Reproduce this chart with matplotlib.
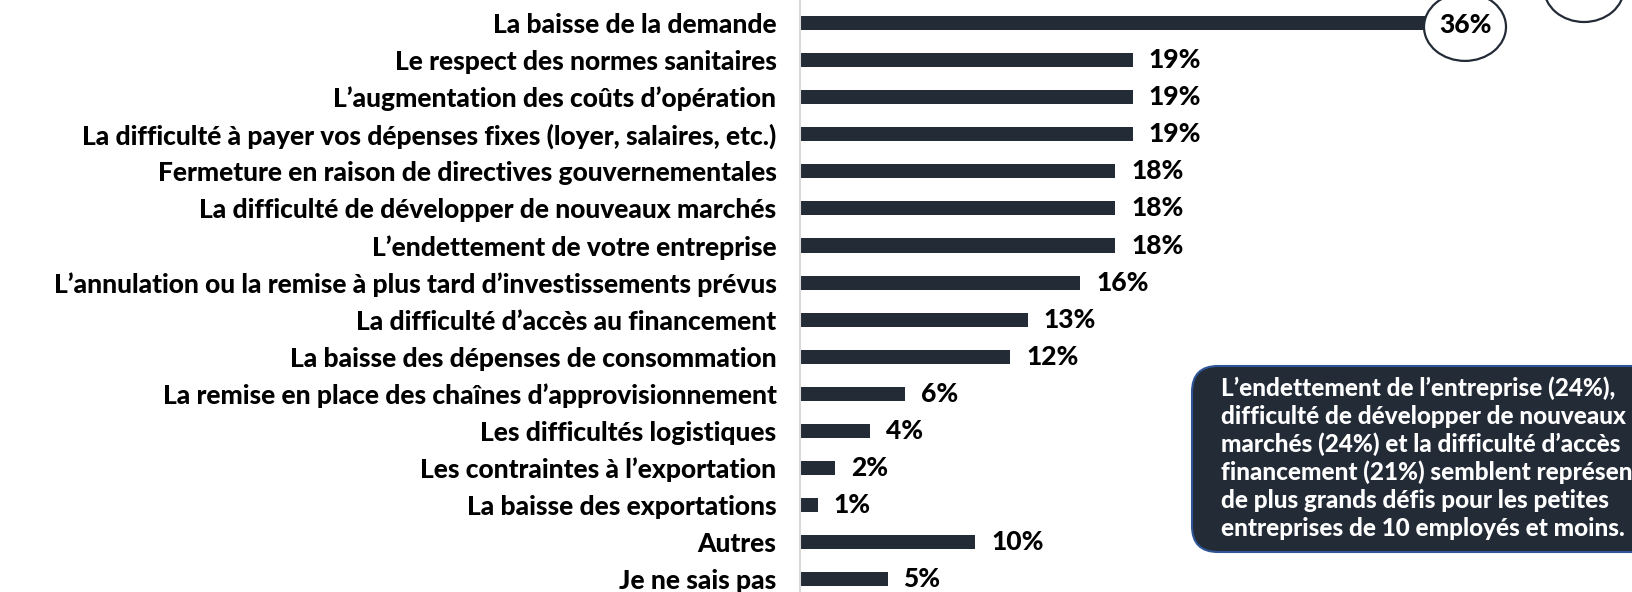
import matplotlib.pyplot as plt
from matplotlib.patches import Ellipse, FancyBboxPatch

labels = [
    "La baisse de la demande",
    "Le respect des normes sanitaires",
    "L’augmentation des coûts d’opération",
    "La difficulté à payer vos dépenses fixes (loyer, salaires, etc.)",
    "Fermeture en raison de directives gouvernementales",
    "La difficulté de développer de nouveaux marchés",
    "L’endettement de votre entreprise",
    "L’annulation ou la remise à plus tard d’investissements prévus",
    "La difficulté d’accès au financement",
    "La baisse des dépenses de consommation",
    "La remise en place des chaînes d’approvisionnement",
    "Les difficultés logistiques",
    "Les contraintes à l’exportation",
    "La baisse des exportations",
    "Autres",
    "Je ne sais pas",
]
values = [36, 19, 19, 19, 18, 18, 18, 16, 13, 12, 6, 4, 2, 1, 10, 5]

# the note runs past the right edge of the slide crop, as in the source
note_lines = [
    "L’endettement de l’entreprise (24%),",
    "difficulté de développer de nouveaux",
    "marchés (24%) et la difficulté d’accès",
    "financement (21%) semblent représenter",
    "de plus grands défis pour les petites",
    "entreprises de 10 employés et moins.",
]

navy = "#232b37"
wt = 900
fs = 19
plt.rcParams['font.family'] = ['Lato', 'DejaVu Sans']

W, H = 1632, 592
fig = plt.figure(figsize=(W / 100, H / 100), dpi=100)

# bar axes: x=0 at pixel 800, 17.5 px per percent; rows 37.1 px apart
px_per = 17.5
row = 37.1
y0 = 22.9
ax = fig.add_axes([800 / W, 0, (W - 800) / W, 1])
ax.set_xlim(0, (W - 800) / px_per)
ax.set_ylim((H - y0) / row, -y0 / row)

ys = list(range(len(labels)))
ax.barh(ys, values, height=0.38, color=navy)

for i, v in enumerate(values):
    if i == 0:
        continue
    ax.text(v + 16 / px_per, i, f"{v}%", va='center', ha='left',
            fontsize=19, fontweight=wt, color='black')

# circled top value
cx = (1465 - 800) / px_per
ax.add_patch(Ellipse((cx, 4 / row), 82 / px_per, 68 / row, facecolor='white',
                     edgecolor=navy, lw=1.6, zorder=3, clip_on=False))
ax.text(cx, 2 / row, f"{values[0]}%", ha='center', va='center', fontsize=19,
        fontweight=wt, color='black', zorder=4)

# partial circle at the top right (cut by the edge)
ax.add_patch(Ellipse(((1584 - 800) / px_per, (-12 - y0) / row), 80 / px_per,
                     68 / row, facecolor='white', edgecolor=navy, lw=1.6,
                     zorder=3, clip_on=False))

ax.set_yticks(ys)
ax.set_yticklabels(labels, fontsize=fs, fontweight=wt, color='black')
ax.tick_params(axis='y', length=0, pad=17)
ax.set_xticks([])
for s in ['top', 'right', 'bottom']:
    ax.spines[s].set_visible(False)
ax.spines['left'].set_color('#d9d9d9')
ax.spines['left'].set_linewidth(1.5)

# overlay in pixel coordinates for the note box
ov = fig.add_axes([0, 0, 1, 1], zorder=5)
ov.set_xlim(0, W)
ov.set_ylim(H, 0)
ov.axis('off')
ov.add_patch(FancyBboxPatch((1192, 366), 600, 186,
                            boxstyle="round,pad=0,rounding_size=26",
                            facecolor=navy, edgecolor='#2f5597', lw=1.5))
for k, line in enumerate(note_lines):
    ov.text(1221, 388 + k * 28.2, line, ha='left', va='center',
            fontsize=17.5, fontweight=wt, color='white')

fig.savefig("out.png", dpi=100)
